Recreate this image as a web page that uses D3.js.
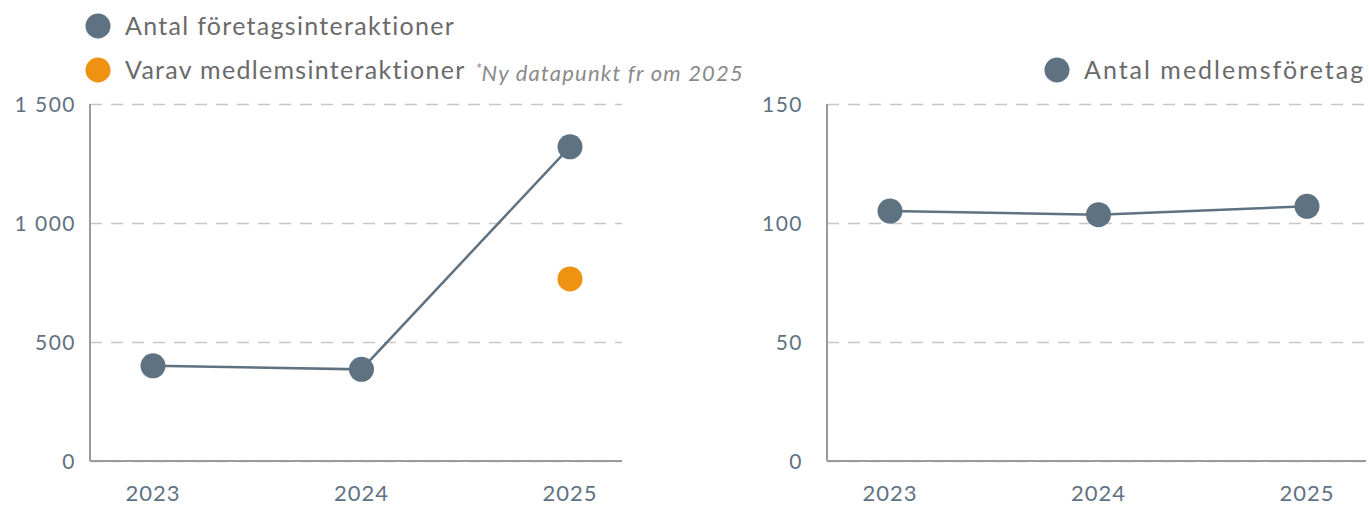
<!DOCTYPE html>
<html>
<head>
<meta charset="utf-8">
<script src="https://cdn.jsdelivr.net/npm/d3@7"></script>
<style>
  body { margin: 0; background: #fff; }
  svg { display: block; font-family: Lato, "Open Sans", sans-serif; }
</style>
</head>
<body>
<div id="chart"></div>
<script>
// data
const years = ["2023", "2024", "2025"];
const interaktioner = [400, 385, 1320];
const medlemsinteraktioner = [null, null, 765];
const medlemsforetag = [105, 103.5, 107];

const leftTicks = [0, 500, 1000, 1500];
const rightTicks = [0, 50, 100, 150];

const slate = "#5f7282";
const orange = "#ef9211";

const width = 1369, height = 506;

const svg = d3.select("#chart")
  .append("svg")
    .attr("width", width)
    .attr("height", height);

// thousands with space, like "1 500"
const fmt = d => d3.format(",")(d).replace(/,/g, " ");

function drawPanel(opt) {
  const g = svg.append("g");

  const x = d3.scalePoint()
    .domain(years)
    .range([opt.left + 63, opt.left + 480]);

  const y = d3.scaleLinear()
    .domain([0, opt.max])
    .range([461, 104]);

  // dashed gridlines
  g.append("g")
    .attr("transform", `translate(${opt.left},0)`)
    .call(d3.axisLeft(y).tickValues(opt.ticks).tickSize(-(opt.right - opt.left)).tickFormat(""))
    .call(a => a.select(".domain").remove())
    .call(a => a.selectAll("line")
      .attr("stroke", "#c6c6c6")
      .attr("stroke-width", 1.3)
      .attr("stroke-dasharray", "12,9"));

  // y tick labels
  g.selectAll(".ylab")
    .data(opt.ticks)
    .join("text")
      .attr("x", opt.labelX)
      .attr("y", d => y(d))
      .attr("dy", "0.36em")
      .attr("text-anchor", "end")
      .style("font-size", "21px")
      .style("letter-spacing", "1.5px")
      .style("fill", slate)
      .text(fmt);

  // axis lines
  g.append("line")
    .attr("x1", opt.left).attr("x2", opt.left)
    .attr("y1", y(opt.max)).attr("y2", y(0))
    .attr("stroke", "#9a9a9a").attr("stroke-width", 2);
  g.append("line")
    .attr("x1", opt.left).attr("x2", opt.right)
    .attr("y1", y(0)).attr("y2", y(0))
    .attr("stroke", "#9a9a9a").attr("stroke-width", 2);

  // x labels
  g.selectAll(".xlab")
    .data(years)
    .join("text")
      .attr("x", d => x(d))
      .attr("y", 501)
      .attr("text-anchor", "middle")
      .style("font-size", "22px")
      .style("letter-spacing", "1px")
      .style("fill", slate)
      .text(d => d);

  opt.series.forEach(s => {
    const pts = years.map((yr, i) => ({ yr, v: s.values[i] })).filter(p => p.v != null);
    if (s.line) {
      g.append("path")
        .datum(pts)
        .attr("fill", "none")
        .attr("stroke", s.color)
        .attr("stroke-width", 2.5)
        .attr("d", d3.line().x(p => x(p.yr)).y(p => y(p.v)));
    }
    g.selectAll(null)
      .data(pts)
      .join("circle")
        .attr("cx", p => x(p.yr))
        .attr("cy", p => y(p.v))
        .attr("r", 12.5)
        .attr("fill", s.color);
  });
}

drawPanel({
  left: 90, right: 622, max: 1500, ticks: leftTicks, labelX: 76,
  series: [
    { values: interaktioner, color: slate, line: true },
    { values: medlemsinteraktioner, color: orange, line: false }
  ]
});

drawPanel({
  left: 827, right: 1366, max: 150, ticks: rightTicks, labelX: 803,
  series: [
    { values: medlemsforetag, color: slate, line: true }
  ]
});

// legends
function legendItem(cx, cy, color, label, spacing, note) {
  svg.append("circle")
    .attr("cx", cx).attr("cy", cy).attr("r", 12.5).attr("fill", color);
  const t = svg.append("text")
    .attr("x", cx + 27).attr("y", cy)
    .attr("dy", "0.35em")
    .style("font-size", "25px")
    .style("letter-spacing", spacing + "px")
    .style("fill", "#6a6a6a")
    .text(label);
  if (note) {
    t.append("tspan")
      .attr("dx", 10)
      .attr("dy", "-0.3em")
      .style("font-size", "15px")
      .style("font-style", "italic")
      .style("letter-spacing", "0px")
      .style("fill", "#8a8a8a")
      .text("*");
    t.append("tspan")
      .attr("dy", "0.3em")
      .style("font-size", "22px")
      .style("font-style", "italic")
      .style("letter-spacing", "1.2px")
      .style("fill", "#8a8a8a")
      .text(note);
  }
}

legendItem(98, 26, slate, "Antal företagsinteraktioner", 1.3);
legendItem(98, 70, orange, "Varav medlemsinteraktioner", 1.3, "Ny datapunkt fr om 2025");
legendItem(1057, 70, slate, "Antal medlemsföretag", 2);
</script>
</body>
</html>
